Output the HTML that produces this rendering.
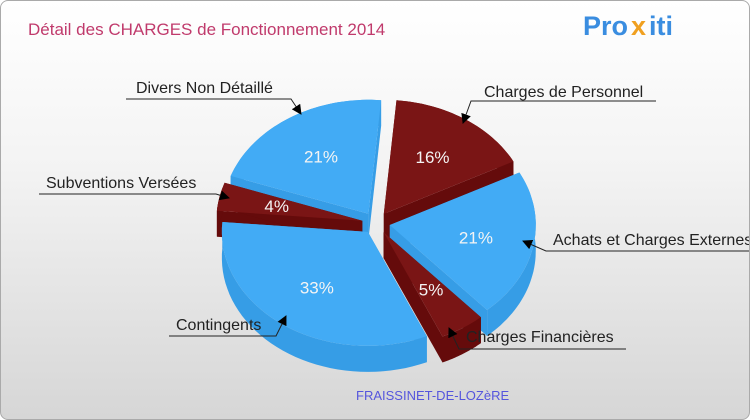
<!DOCTYPE html>
<html><head><meta charset="utf-8"><style>
html,body{margin:0;padding:0}
body{width:750px;height:420px;overflow:hidden;font-family:"Liberation Sans",sans-serif}
#wrap{position:absolute;left:0;top:0;width:748px;height:418px;border:1px solid #aaa;border-radius:8px;background:linear-gradient(#fff 0%,#f3f3f3 40%,#d6d6d6 100%);overflow:hidden}
</style></head><body>
<div id="wrap">
<svg id="svg" width="750" height="420">
<text x="27" y="34" font-size="17" fill="#c03a6c">Détail des CHARGES de Fonctionnement 2014</text>
<g font-family="Liberation Sans" font-weight="bold" font-size="27">
<text x="582" y="34" fill="#3a8de0">Pro</text><text x="630" y="34" fill="#f0a020">x</text><text x="648" y="34" fill="#3a8de0">iti</text></g>
<g id="pie"></g>
<g id="labels" font-size="16" fill="#222"></g>
<text x="355" y="399" font-size="13" fill="#5555dd">FRAISSINET-DE-LOZèRE</text>
<defs><marker id="ar" markerWidth="10" markerHeight="10" refX="9" refY="5" orient="auto" markerUnits="userSpaceOnUse"><path d="M0,0 L10,5 L0,10 z" fill="#000"/></marker></defs>
</svg></div>
<script>
const categories=["Charges de Personnel","Achats et Charges Externes","Charges Financières","Contingents","Subventions Versées","Divers Non Détaillé"];
const values=[16,21,5,33,4,21];
const pctLabels=["16%","21%","5%","33%","4%","21%"];
const colorKinds=["red","blue","red","blue","red","blue"];
const cx=375,cy=222,rx=146,ry=114,depth=26,explode=14,start=5;
const pal={red:["#7a1515","#650b0b"],blue:["#42abf5","#369de6"]};
const ns="http://www.w3.org/2000/svg";
const pie=document.getElementById('pie');
function pt(a,ox,oy,r){r=r||1;const t=a*Math.PI/180;return [cx+ox+rx*r*Math.sin(t),cy+oy-ry*r*Math.cos(t)];}
function mk(d,fill,name){const p=document.createElementNS(ns,'path');p.setAttribute('d',d);p.setAttribute('fill',fill);


pie.appendChild(p);return p;}
const total=values.reduce((a,b)=>a+b,0);
let acc=start;const slices=[];
values.forEach((v,i)=>{const a1=acc,a2=acc+v/total*360;acc=a2;slices.push({i,a1,a2,m:(a1+a2)/2});});
slices.slice().sort((a,b)=>Math.cos(b.m*Math.PI/180)-Math.cos(a.m*Math.PI/180)).forEach(s=>{
 const t=s.m*Math.PI/180,ox=explode*Math.sin(t),oy=explode*Math.cos(t)*-1*ry/rx;
 const [top,side]=pal[colorKinds[s.i]];
 const arc=(dy)=>{let a=[];for(let k=0;k<=40;k++){a.push(pt(s.a1+(s.a2-s.a1)*k/40,ox,oy+dy));}return a;};
 const at=arc(0),ab=arc(depth);const c0=[cx+ox,cy+oy],c1=[cx+ox,cy+oy+depth];
 const L=p=>p[0].toFixed(1)+','+p[1].toFixed(1);
 mk('M'+L(c0)+'L'+L(at[0])+'L'+L(ab[0])+'L'+L(c1)+'Z',side,'slice-wall-'+s.i);
 mk('M'+L(c0)+'L'+L(at[40])+'L'+L(ab[40])+'L'+L(c1)+'Z',side,'slice-wall-end-'+s.i);
 mk('M'+at.map(L).join('L')+'L'+ab.slice().reverse().map(L).join('L')+'Z',side,'slice-side-'+s.i);
 mk('M'+L(c0)+'L'+at.map(L).join('L')+'Z',top,'slice-'+s.i);
 const lp=pt(s.m,ox,oy,0.6);
 const tx=document.createElementNS(ns,'text');tx.setAttribute('x',lp[0]);tx.setAttribute('y',lp[1]+6);tx.setAttribute('text-anchor','middle');
 tx.setAttribute('font-size','17');tx.setAttribute('fill','#f4f4f4');tx.textContent=pctLabels[s.i];
 
 
 pie.appendChild(tx);
});
const lab=document.getElementById('labels');
const callouts=[[483,96,470,655,100,'r',462,122],[552,244,545,750,250,'r',522,240],[465,341,458,625,348,'r',448,327],[175,329,168,275,335,'l',285,315],[45,187,38,215,193,'l',228,197],[135,92,125,290,98,'l',300,113]];
callouts.forEach((c,i)=>{
 const t=document.createElementNS(ns,'text');t.setAttribute('x',c[0]);t.setAttribute('y',c[1]);t.textContent=categories[i];
 
 
 lab.appendChild(t);
 const bx=c[5]=='r'?c[2]:c[3];
 const p=document.createElementNS(ns,'path');
 p.setAttribute('d',`M${c[5]=='r'?c[3]:c[2]},${c[4]}L${bx},${c[4]}L${c[6]},${c[7]}`);
 p.setAttribute('stroke','#222');p.setAttribute('fill','none');p.setAttribute('stroke-width','1');p.setAttribute('marker-end','url(#ar)');
 
 
 lab.appendChild(p);
});
</script>
</body></html>
